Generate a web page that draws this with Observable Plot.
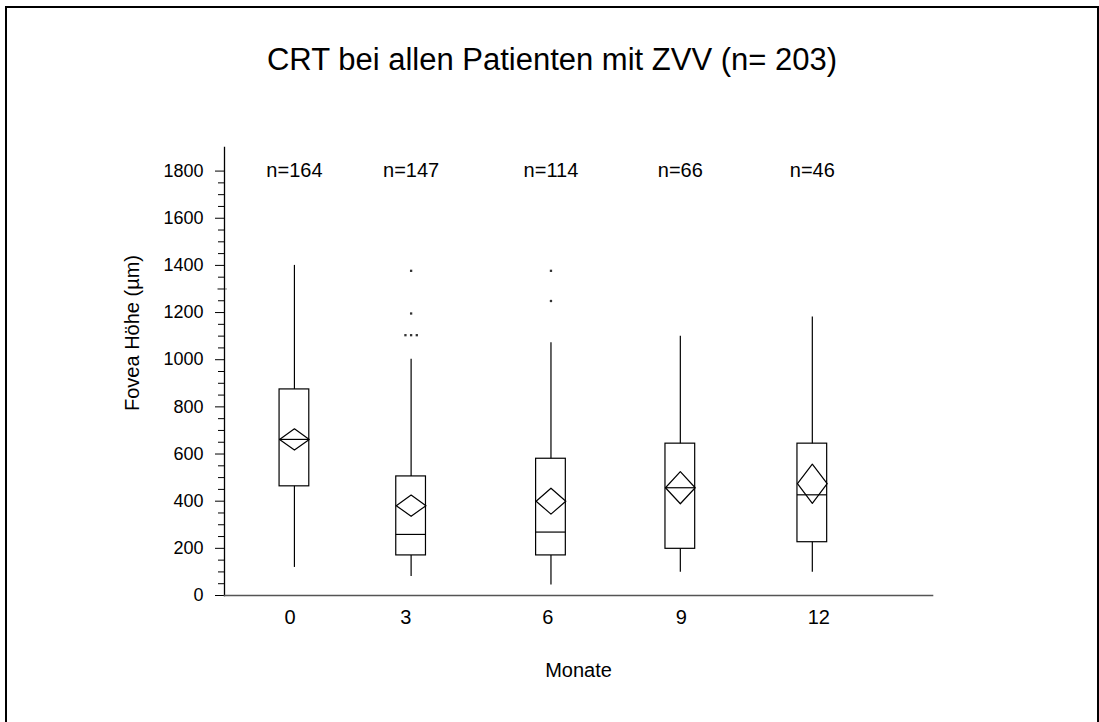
<!DOCTYPE html>
<html>
<head>
<meta charset="utf-8">
<script src="https://cdn.jsdelivr.net/npm/d3@7"></script>
<script src="https://cdn.jsdelivr.net/npm/@observablehq/plot@0.6"></script>
<style>
  html, body { margin: 0; padding: 0; background: #fff; }
  body { width: 1099px; height: 722px; position: relative; overflow: hidden; font-family: "Liberation Sans", Arial, sans-serif; }
  #chart { position: absolute; left: 0; top: 0; }
  #frame { position: absolute; left: 5px; top: 6px; width: 1090px; height: 800px; border: 2px solid #000; border-bottom: none; pointer-events: none; }
  #title { position: absolute; left: 5px; width: 1094px; top: 44px; text-align: center; font-size: 31px; line-height: 32px; color: #000; }
  #ylabel { position: absolute; left: 132px; top: 333px; transform: translate(-50%, -50%) rotate(-90deg); white-space: nowrap; font-size: 20px; color: #000; }
</style>
</head>
<body>
<div id="chart"></div>
<div id="frame"></div>
<div id="title">CRT bei allen Patienten mit ZVV (n= 203)</div>
<div id="ylabel">Fovea Höhe (µm)</div>
<script>
// ---- data ----
const monate = ["0", "3", "6", "9", "12"];
const monatPos = [0.1, 2.77, 5.97, 8.93, 11.95];     // plotted month position of each group
const monatTickPos = [0, 2.65, 5.9, 8.95, 12.1];     // month position of each x tick label
const nWerte = [164, 147, 114, 66, 46];
const whiskerUnten = [119, 81, 45, 99, 99];
const quartil1 = [463, 170, 170, 198, 226];
const medianWerte = [662, 259, 269, 457, 427];
const quartil3 = [874, 505, 580, 644, 644];
const whiskerOben = [1400, 1002, 1072, 1100, 1181];
const mittelwerte = [662, 381, 400, 457, 474];
const ciHalb = [45, 45, 55, 68, 83];
const ausreisserGruppe = [1, 1, 1, 1, 1, 2, 2];
const ausreisserWert = [1377, 1196, 1104, 1104, 1104, 1377, 1249];
const yMajor = [0, 200, 400, 600, 800, 1000, 1200, 1400, 1600, 1800];
const yMinorStep = 50;

// ---- build tables ----
const hw = 0.34;     // half box width (months)
const spread = 0.13; // horizontal spread for tied outliers (months)
const groups = monate.map((m, i) => ({
  m, pos: monatPos[i], tick: monatTickPos[i], n: nWerte[i], lo: whiskerUnten[i], q1: quartil1[i],
  med: medianWerte[i], q3: quartil3[i], hi: whiskerOben[i], mean: mittelwerte[i], ci: ciHalb[i]
}));
const diamonds = groups.flatMap((d, i) => [
  {g: i, x: d.pos - hw, y: d.mean},
  {g: i, x: d.pos, y: d.mean + d.ci},
  {g: i, x: d.pos + hw, y: d.mean},
  {g: i, x: d.pos, y: d.mean - d.ci},
  {g: i, x: d.pos - hw, y: d.mean}
]);
const outliers = ausreisserWert.map((v, i) => ({g: ausreisserGruppe[i], v}));
const tieCount = d3.rollup(outliers, a => a.length, d => d.g + "|" + d.v);
const tieSeen = new Map();
outliers.forEach(o => {
  const key = o.g + "|" + o.v;
  const k = tieSeen.get(key) || 0;
  tieSeen.set(key, k + 1);
  o.x = monatPos[o.g] + (k - (tieCount.get(key) - 1) / 2) * spread;
});
const yMinor = d3.range(0, 1801, yMinorStep).filter(v => v % 200 !== 0);

const font = 18;
const font2 = 20;
const plot = Plot.plot({
  width: 1099,
  height: 722,
  marginLeft: 224,
  marginRight: 167,
  marginTop: 147,
  marginBottom: 127,
  style: {background: "transparent", fontFamily: "Liberation Sans, Arial, sans-serif", color: "#000"},
  x: {domain: [-1.5, 14.7], axis: null},
  y: {domain: [0, 1900], axis: null},
  marks: [
    Plot.axisY(yMajor, {tickSize: 9, tickPadding: 12, fontSize: font, label: null, stroke: "#000", tickFormat: d => String(d)}),
    Plot.axisY(yMinor, {tickSize: 6, tickFormat: () => "", label: null, stroke: "#000"}),
    Plot.axisY([1300], {tickSize: 10, dx: 3, tickFormat: () => "", label: null, stroke: "#888"}),
    Plot.frame({anchor: "left", stroke: "#000", strokeWidth: 1.3}),
    Plot.frame({anchor: "bottom", stroke: "#555", strokeWidth: 1.6}),
    // whiskers
    Plot.ruleX(groups, {x: "pos", y1: "q3", y2: "hi", stroke: "#000", strokeWidth: 1.2}),
    Plot.ruleX(groups, {x: "pos", y1: "lo", y2: "q1", stroke: "#000", strokeWidth: 1.2}),
    // boxes
    Plot.rect(groups, {x1: d => d.pos - hw, x2: d => d.pos + hw, y1: "q1", y2: "q3", fill: "none", stroke: "#000", strokeWidth: 1.2}),
    Plot.ruleY(groups, {x1: d => d.pos - hw, x2: d => d.pos + hw, y: "med", stroke: "#000", strokeWidth: 1.2}),
    // mean diamonds
    Plot.line(diamonds, {x: "x", y: "y", z: "g", stroke: "#000", strokeWidth: 1.2}),
    // outliers
    Plot.dot(outliers, {x: "x", y: "v", symbol: "square", r: 1.3, fill: "#333", stroke: null}),
    // n labels
    Plot.text(groups, {x: "pos", y: 1800, text: d => "n=" + d.n, fontSize: font2, fill: "#000"}),
    // x tick labels
    Plot.text(groups, {x: "tick", y: 0, text: "m", dy: 22, fontSize: font2, fill: "#000"}),
    // x axis title
    Plot.text(["Monate"], {frameAnchor: "bottom", dy: 81, fontSize: font2, fill: "#000"})
  ]
});
document.getElementById("chart").appendChild(plot);
</script>
</body>
</html>
